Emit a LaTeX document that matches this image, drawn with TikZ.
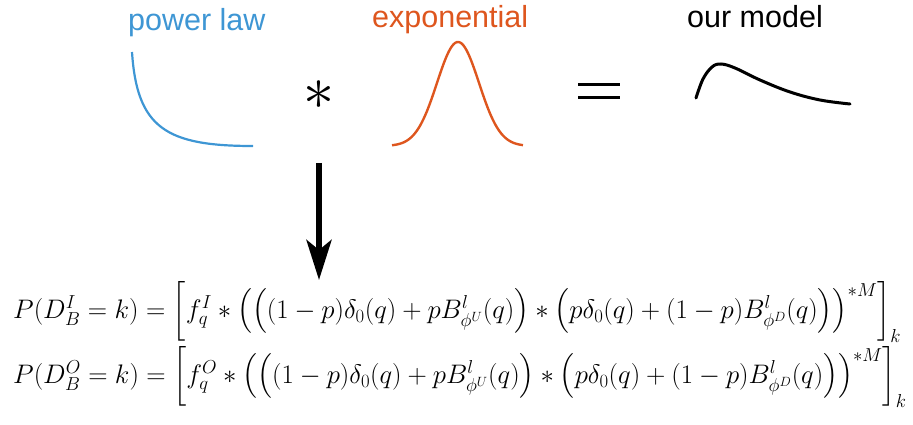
\RequirePackage{fix-cm}
\documentclass[tikz,border=0pt]{standalone}
\usepackage{amsmath}
\usepackage[no-math]{fontspec}
\setmainfont{Liberation Sans}
\usetikzlibrary{arrows.meta}
\definecolor{plblue}{RGB}{62,150,212}
\definecolor{exorange}{RGB}{222,86,30}
\tikzset{
  label/.style={inner sep=0pt, anchor=base west, font=\fontsize{30.5}{34}\selectfont},
  formula/.style={inner sep=0pt, anchor=base west, font=\fontsize{26.8}{30}\selectfont},
}
\begin{document}
\begin{tikzpicture}[x=1pt,y=-1pt]
\path[use as bounding box] (0,0) rectangle (913,425);
% labels
\node[label, text=plblue] (pl) at (128,31) {power law};
\node[label, text=exorange] (ex) at (372,28) {exponential};
\node[label, text=black] (om) at (687,28) {our model};
% curves
\draw[plblue, line width=2.2pt] (132,52) .. controls (137,128) and (166,146) .. (253,146);
\draw[exorange, line width=2.4pt, domain=392:523, samples=80, smooth]
  plot (\x, {146-104*exp(-((\x-458)^2)/(2*21*21))});
\draw[black, line width=3pt, line cap=round] plot[smooth, tension=0.6] coordinates
  {(696,98) (703,79) (712,67) (721,64) (735,68) (760,80) (790,92) (820,100) (850,104)};
% operators
\node[inner sep=0pt, font=\fontsize{62}{62}\selectfont] (star) at (319,95) {$\ast$};
\coordinate (eqa) at (578,85);
\coordinate (eqb) at (620,85);
\coordinate (eqc) at (578,98);
\coordinate (eqd) at (620,98);
\draw[line width=3pt] (eqa) -- (eqb) (eqc) -- (eqd);
% arrow
\coordinate (arrs) at (319,163);
\coordinate (arre) at (319,280);
\draw[line width=6pt, -{Stealth[length=40pt, width=25pt, inset=10pt]}] (arrs) -- (arre);
% formulas
\node[formula] (f1) at (13,318) {$P(D_B^I=k)=\left[f_q^I*\left(\left((1-p)\delta_0(q)+pB^l_{\phi^U}(q)\right)*\left(p\delta_0(q)+(1-p)B^l_{\phi^D}(q)\right)\right)^{*M}\right]_k$};
\node[formula] (f2) at (13,383) {$P(D_B^O=k)=\left[f_q^O*\left(\left((1-p)\delta_0(q)+pB^l_{\phi^U}(q)\right)*\left(p\delta_0(q)+(1-p)B^l_{\phi^D}(q)\right)\right)^{*M}\right]_k$};
\end{tikzpicture}
\end{document}
